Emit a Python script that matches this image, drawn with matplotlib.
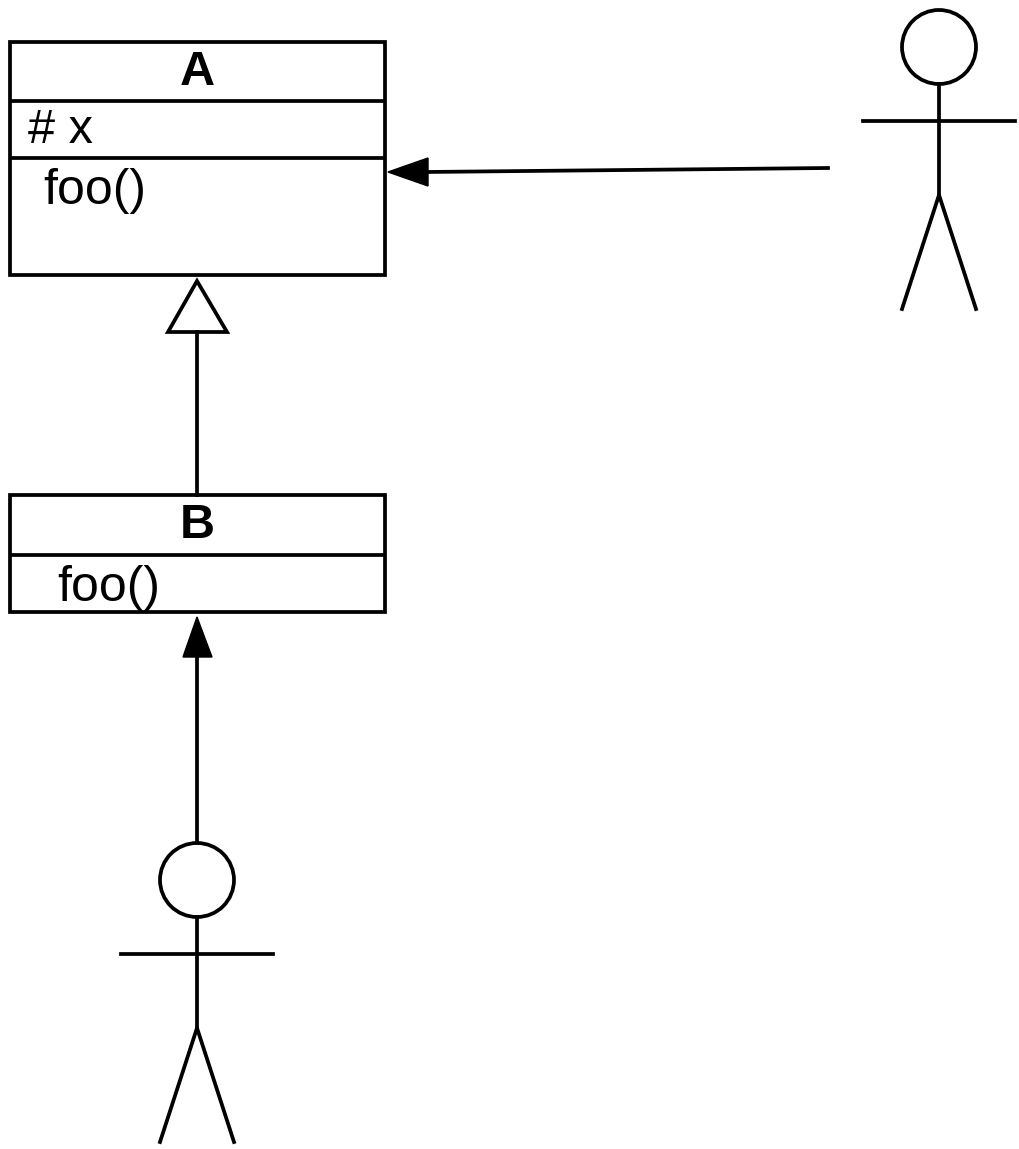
import matplotlib.pyplot as plt
from matplotlib.patches import Rectangle, Circle, Polygon

plt.rcParams["font.family"] = ["Liberation Sans", "DejaVu Sans"]

# =========================
# CONTENT
# =========================
class_names = ["A", "B"]
class_attrs = [["# x"], []]
class_methods = [["foo()"], ["foo()"]]

# class boxes in pixel space: left, top, right, bottom, divider rows
class_boxes = [
    (10, 42, 385, 275, [101, 158]),
    (10, 495, 385, 612, [555]),
]
method_x = [43, 57]
actors = [(939, 47), (197, 880)]   # head centres

LW = 2.7

fig = plt.figure(figsize=(10.2, 11.49), dpi=100)
ax = fig.add_axes([0, 0, 1, 1])
ax.set_xlim(0, 1020)
ax.set_ylim(1149, 0)
ax.axis("off")


def draw_class(box, name, attrs, methods, text_x):
    l, t, r, b, divs = box
    ax.add_patch(Rectangle((l, t), r - l, b - t, fill=False, lw=LW, ec="black"))
    for d in divs:
        ax.plot([l, r], [d, d], color="black", lw=LW, solid_capstyle="butt")
    ax.text((l + r) / 2, (t + divs[0]) / 2 + 1, name, ha="center", va="center",
            fontsize=35, fontweight="bold")
    for a in attrs:
        ax.text(l + 18, (divs[0] + divs[1]) / 2 + 1, a, ha="left", va="center", fontsize=35)
    top = divs[-1]
    for m in methods:
        ax.text(text_x, top + 33, m, ha="left", va="center", fontsize=36)


def draw_actor(cx, cy, r=37):
    ax.add_patch(Circle((cx, cy), r, fill=False, lw=LW, ec="black"))
    neck = cy + r
    ax.plot([cx, cx], [neck, neck + 111], color="black", lw=LW)
    ax.plot([cx - 76, cx + 76], [cy + 74, cy + 74], color="black", lw=LW)
    hip = neck + 111
    ax.plot([cx - 37, cx, cx + 37], [hip + 114, hip, hip + 114], color="black", lw=LW)


for i in range(len(class_names)):
    draw_class(class_boxes[i], class_names[i], class_attrs[i], class_methods[i], method_x[i])

for cx, cy in actors:
    draw_actor(cx, cy)

# association: actor 1 -> A
ax.plot([828, 425], [168, 172], color="black", lw=LW)
ax.add_patch(Polygon([[388, 172], [428, 158], [428, 186]], closed=True, fc="black", ec="black", lw=1))

# generalisation: B -> A
ax.plot([197, 197], [332, 495], color="black", lw=LW)
ax.add_patch(Polygon([[197, 281], [168, 332], [227, 332]], closed=True, fc="white", ec="black", lw=LW))

# association: actor 2 -> B
ax.plot([197, 197], [843, 655], color="black", lw=LW)
ax.add_patch(Polygon([[197, 617], [183, 657], [212, 657]], closed=True, fc="black", ec="black", lw=1))

fig.savefig("out.png", dpi=100)
